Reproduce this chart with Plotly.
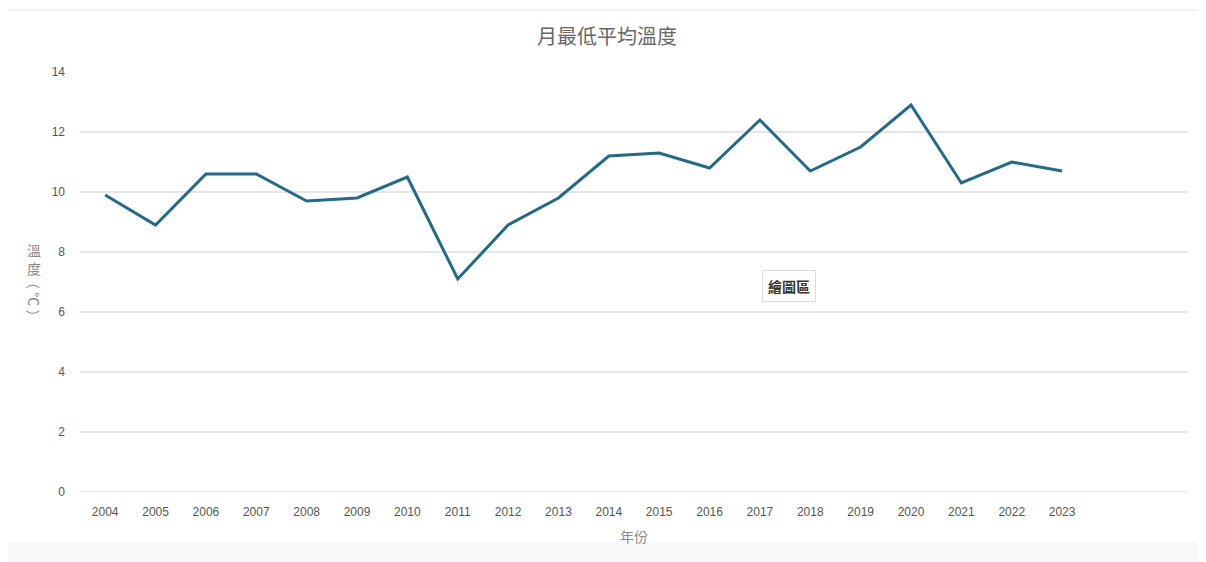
import plotly.graph_objects as go

years = [str(y) for y in range(2004, 2024)]
min_temp = [9.9, 8.9, 10.6, 10.6, 9.7, 9.8, 10.5, 7.1, 8.9, 9.8,
            11.2, 11.3, 10.8, 12.4, 10.7, 11.5, 12.9, 10.3, 11.0, 10.7]
y_ticks = [0, 2, 4, 6, 8, 10, 12, 14]

# the page body adds an 8px offset, so work in screen pixels minus 8
OFF = 8
W, H = 1206 - OFF, 562 - OFF
L, R, T, B = 80 - OFF, 1206 - 1188, 72 - OFF, 562 - 492
pw, ph = W - L - R, H - T - B


def px(x):
    return (x - OFF - L) / pw


def py(y):
    return (H - B - (y - OFF)) / ph


fig = go.Figure()
fig.add_trace(go.Scatter(x=years, y=min_temp, mode="lines",
                         line=dict(color="#236a89", width=3),
                         name="月最低平均溫度", hoverinfo="x+y"))

fig.update_layout(
    width=W, height=H,
    margin=dict(l=L, r=R, t=T, b=B),
    paper_bgcolor="white", plot_bgcolor="white",
    font=dict(family="Liberation Sans, Noto Sans CJK TC", color="#555"),
    showlegend=False,
    title=dict(text="月最低平均溫度", x=px(607), xanchor="center",
               xref="paper", y=1 - (37 - OFF) / H, yanchor="middle",
               font=dict(size=20, color="#666",
                         family="Noto Sans CJK TC")),
    xaxis=dict(type="category", range=[-0.5, 21.5], showgrid=False,
               showline=False, ticks="", ticklabelstandoff=11,
               tickfont=dict(size=12, color="#555"),
               title=dict(text="年份", standoff=14,
                          font=dict(size=14, color="#888",
                                    family="Noto Sans CJK TC"))),
    yaxis=dict(range=[0, 14], tickvals=y_ticks, showgrid=True,
               gridcolor="#e6e6e6", gridwidth=1.5, zeroline=False,
               showline=False, ticks="", ticklabelstandoff=14,
               tickfont=dict(size=12, color="#555")),
)

# gridline at zero (zeroline disabled so it matches the others)
fig.add_hline(y=0, line=dict(color="#e6e6e6", width=1.5), layer="below")

# vertical y-axis title: CJK upright, the bracketed unit turned sideways
fig.add_annotation(text="溫<br>度", xref="paper", yref="paper",
                   x=px(34), y=py(259), xanchor="center", showarrow=False,
                   font=dict(size=14, color="#888", family="Noto Sans CJK TC"),
                   align="center")
fig.add_annotation(text="（ °C ）", xref="paper", yref="paper",
                   x=px(34), y=py(299), xanchor="center", showarrow=False,
                   textangle=90,
                   font=dict(size=14, color="#888", family="Noto Sans CJK TC"))

# tooltip-like label
fig.add_annotation(text="<b>繪圖區</b>", xref="paper", yref="paper",
                   x=px(789), y=py(286), showarrow=False,
                   bgcolor="white", bordercolor="#dddddd", borderwidth=1,
                   borderpad=5,
                   font=dict(size=14, color="#333", family="Noto Sans CJK TC"))

# card frame
fig.add_shape(type="line", xref="paper", yref="paper",
              x0=px(7), x1=px(1204), y0=py(10), y1=py(10),
              line=dict(color="#e4e4e4", width=1))
fig.add_shape(type="line", xref="paper", yref="paper",
              x0=px(1204), x1=px(1204), y0=py(10), y1=py(562),
              line=dict(color="#e4e4e4", width=1))
fig.add_shape(type="rect", xref="paper", yref="paper",
              x0=px(7), x1=px(1204), y0=py(562), y1=py(542),
              fillcolor="#f9f9f9", line=dict(width=0), layer="below")

fig.write_html("out.html")
